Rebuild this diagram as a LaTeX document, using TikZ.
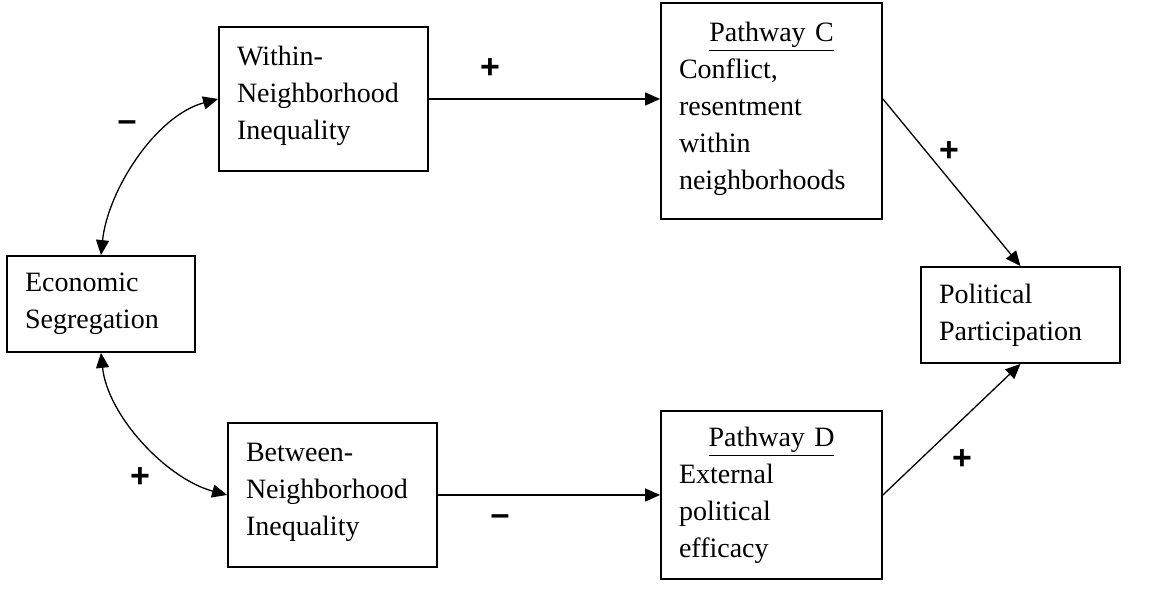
\documentclass[tikz,border=0pt]{standalone}
\usepackage{fontspec}
\setmainfont{Liberation Serif}
\newfontfamily\signfont{Liberation Sans}
\usetikzlibrary{arrows.meta}

\begin{document}
\begin{tikzpicture}[x=25pt,y=25pt,
    box/.style={draw,line width=0.9pt,inner xsep=9pt,align=left,font=\fontsize{14pt}{18.5pt}\selectfont},
    sign/.style={font=\signfont\bfseries\fontsize{17pt}{17pt}\selectfont},
    arr/.style={line width=0.65pt,-{Triangle[length=7.5pt,width=6.5pt]}},
    dblarr/.style={line width=0.65pt,{Triangle[length=7.5pt,width=6.5pt]}-{Triangle[length=7.5pt,width=6.5pt]}}]
    \useasboundingbox (0,0) rectangle (23.34,11.84);

    % Segregation
    \node[box,text width=76pt,minimum height=48pt] (econ) at (2.02,5.76) {Economic\\Segregation};

    % Inequality boxes
    \node[box,text width=86.5pt,minimum height=72pt,text depth=43pt] (within) at (6.47,9.86) {Within-\\Neighborhood\\Inequality};
    \node[box,text width=86.5pt,minimum height=72pt,text depth=43pt] (between) at (6.65,1.94) {Between-\\Neighborhood\\Inequality};

    % Pathways
    \node[box,text width=92.5pt,minimum height=108pt,text depth=79pt] (pathC) at (15.43,9.62)
        {\makebox[92.5pt]{\underline{Pathway C}}\\Conflict,\\resentment\\within\\neighborhoods};
    \node[box,text width=92.5pt,minimum height=84pt] (pathD) at (15.43,1.94)
        {\makebox[92.5pt]{\underline{Pathway D}}\\External\\political\\efficacy};

    % Outcome
    \node[box,text width=81.5pt,minimum height=48pt] (polit) at (20.41,5.54) {Political\\Participation};

    % Links
    \draw[dblarr] (econ.north) to[out=84,in=195,looseness=0.85] (within.west);
    \draw[dblarr] (econ.south) to[out=-84,in=165,looseness=0.85] (between.west);
    \draw[arr] (within.east) -- (within.east -| pathC.west);
    \draw[arr] (between.east) -- (between.east -| pathD.west);
    \draw[arr] (pathC.east |- within.east) -- (polit.north);
    \draw[arr] (pathD.east) -- (polit.south);

    % Signs
    \node[sign] (sgnWithin) at (2.54,9.32) {–};
    \node[sign] (sgnBetween) at (2.80,2.28) {+};
    \node[sign] (sgnC) at (9.80,10.47) {+};
    \node[sign] (sgnD) at (10.00,1.44) {–};
    \node[sign] (sgnCPol) at (18.98,8.80) {+};
    \node[sign] (sgnDPol) at (19.24,2.64) {+};
\end{tikzpicture}
\end{document}
